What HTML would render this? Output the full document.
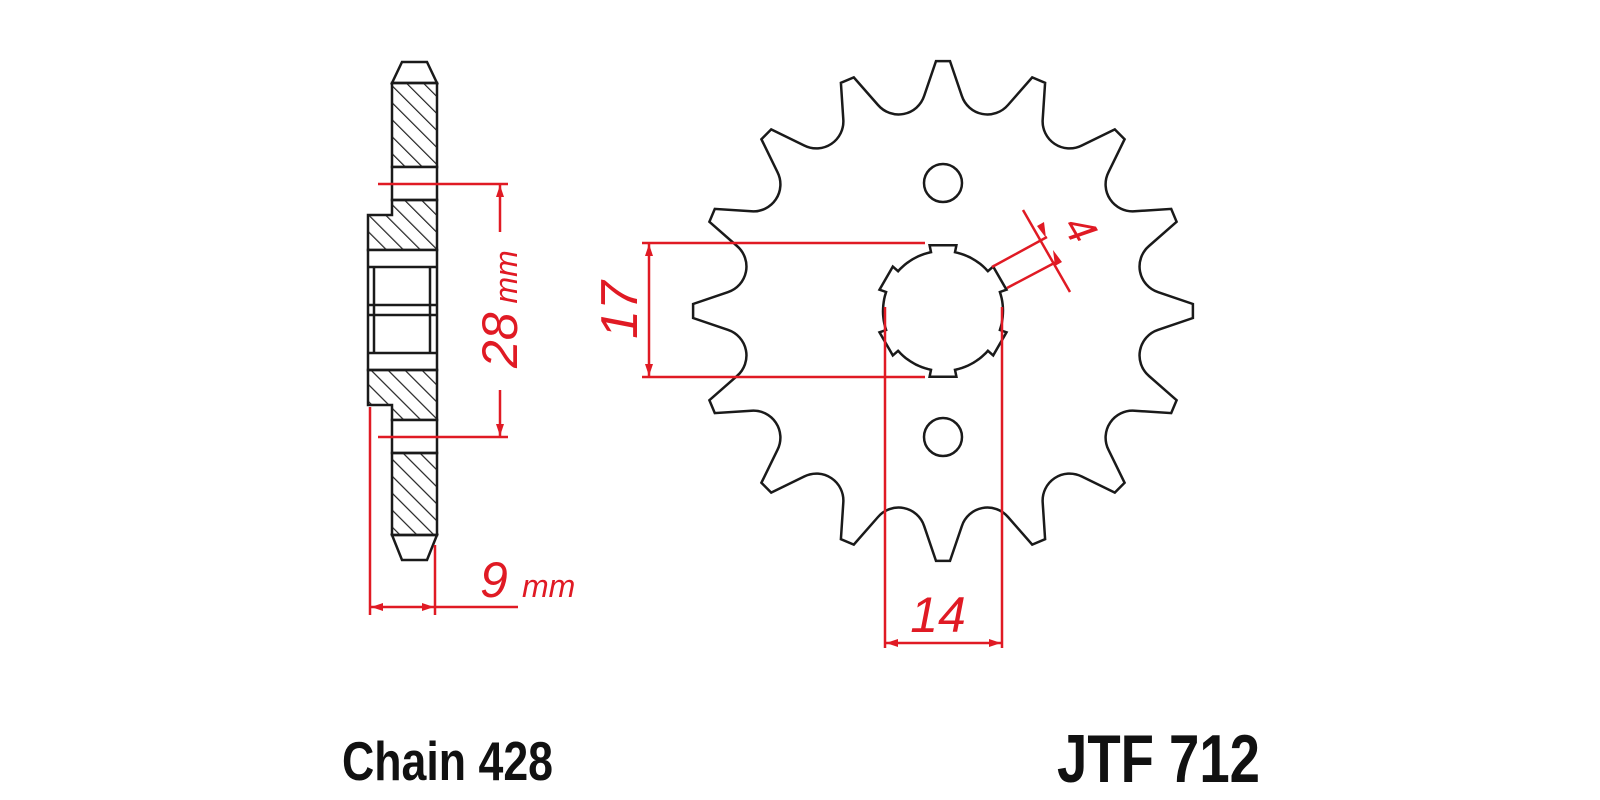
<!DOCTYPE html>
<html><head><meta charset="utf-8"><style>
html,body{margin:0;padding:0;background:#fff;}
svg{display:block;}
</style></head><body>
<svg id="s" width="1600" height="800" viewBox="0 0 1600 800" xmlns="http://www.w3.org/2000/svg">
<defs>
<pattern id="h" patternUnits="userSpaceOnUse" width="12" height="12" patternTransform="rotate(-45)">
<line x1="0" y1="0" x2="0" y2="12" stroke="#222" stroke-width="2.4"/>
</pattern>
</defs>
<rect width="1600" height="800" fill="#fff"/>

<!-- side view -->
<g stroke="#1a1a1a" stroke-width="2.5" fill="none">
<polygon points="402,62 427,62 437,83 392,83" fill="#fff"/>
<polygon points="392,535 437,535 427,560 402,560" fill="#fff"/>
<rect x="392" y="83" width="45" height="84" fill="url(#h)"/>
<rect x="392" y="167" width="45" height="33" fill="#fff"/>
<polygon points="392,200 437,200 437,250 368,250 368,215 392,215" fill="url(#h)"/>
<rect x="368" y="250" width="69" height="120" fill="#fff"/>
<line x1="368" y1="267" x2="437" y2="267"/>
<line x1="368" y1="305" x2="437" y2="305"/>
<line x1="368" y1="315" x2="437" y2="315"/>
<line x1="368" y1="353" x2="437" y2="353"/>
<line x1="374" y1="267" x2="374" y2="353"/>
<line x1="430" y1="267" x2="430" y2="353"/>
<polygon points="368,370 437,370 437,420 392,420 392,405 368,405" fill="url(#h)"/>
<rect x="392" y="420" width="45" height="33" fill="#fff"/>
<rect x="392" y="453" width="45" height="82" fill="url(#h)"/>
</g>

<!-- sprocket -->
<g stroke="#1a1a1a" stroke-width="2.5" fill="none">
<path id="gear"/>
<path id="hub"/>
<circle cx="943" cy="183" r="19"/>
<circle cx="943" cy="437" r="19"/>
</g>

<!-- red dims -->
<g stroke="#e01a24" stroke-width="2.5" fill="none">
<line x1="378" y1="184" x2="508" y2="184"/>
<line x1="378" y1="437" x2="508" y2="437"/>
<line x1="500" y1="184" x2="500" y2="232"/>
<line x1="500" y1="390" x2="500" y2="437"/>
<line x1="370" y1="407" x2="370" y2="615"/>
<line x1="435" y1="545" x2="435" y2="615"/>
<line x1="370" y1="607" x2="518" y2="607"/>
<line x1="642" y1="243" x2="925" y2="243"/>
<line x1="642" y1="377" x2="925" y2="377"/>
<line x1="649" y1="243" x2="649" y2="377"/>
<line x1="885" y1="307" x2="885" y2="648"/>
<line x1="1002" y1="307" x2="1002" y2="648"/>
<line x1="885" y1="643" x2="1002" y2="643"/>
<line x1="992" y1="267" x2="1047" y2="237"/>
<line x1="1007" y1="288" x2="1060" y2="260"/>
<line x1="1023" y1="210" x2="1070" y2="292"/>
</g>
<g fill="#e01a24">
<polygon points="500,185 496,197 504,197"/>
<polygon points="500,436 496,424 504,424"/>
<polygon points="371,607 383,603 383,611"/>
<polygon points="434,607 422,603 422,611"/>
<polygon points="649,244 645,256 653,256"/>
<polygon points="649,376 645,364 653,364"/>
<polygon points="886,643 898,639 898,647"/>
<polygon points="1001,643 989,639 989,647"/>
<polygon points="1046,238 1037,226 1044,222"/>
<polygon points="1053,250 1062,262 1055,266"/>
</g>
<g fill="#e01a24" font-family="Liberation Sans, sans-serif" font-style="italic">
<text x="0" y="0" font-size="50" transform="translate(517,368) rotate(-90)">28<tspan font-size="32"> mm</tspan></text>
<text x="480" y="597" font-size="50">9</text>
<text x="522" y="597" font-size="32">mm</text>
<text x="0" y="0" font-size="52" text-anchor="middle" transform="translate(637,310) rotate(-90)">17</text>
<text x="938" y="632" font-size="50" text-anchor="middle">14</text>
<text x="0" y="0" font-size="42" text-anchor="middle" transform="translate(1068,236) rotate(60)">4</text>
</g>
<g fill="#111" font-family="Liberation Sans, sans-serif" font-weight="bold">
<text x="342" y="780" font-size="55" textLength="211" lengthAdjust="spacingAndGlyphs">Chain 428</text>
<text x="1057" y="782" font-size="68" textLength="203" lengthAdjust="spacingAndGlyphs">JTF 712</text>
</g>
</svg>
<script>
(function(){
var cx=943,cy=311,N=16,d='';
function P(r,a){a=a*Math.PI/180;return [(cx+r*Math.sin(a)).toFixed(1),(cy-r*Math.cos(a)).toFixed(1)];}
for(var i=0;i<N;i++){
 var t=i*22.5;
 var a=P(250,t-1.6),b=P(250,t+1.6),c=P(216,t+5),e=P(216,t+17.5);
 d+=(i==0?'M':'L')+a[0]+' '+a[1]+' L'+b[0]+' '+b[1]+' L'+c[0]+' '+c[1]+' A27 27 0 0 0 '+e[0]+' '+e[1]+' ';
}
d+='Z';
document.getElementById('gear').setAttribute('d',d);
var pts=[];
for(var k=0;k<6;k++){
 var f=k*60;
 var s=f+11.5,en=f+60-11.5;
 pts.push(P(67,f-11.5));
 pts.push(P(67,f+11.5));
 for(var g=s;g<=en+0.01;g+=3){pts.push(P(60,g));}
 pts.push(P(60,en));
}
var hd='M'+pts.map(function(p){return p[0]+' '+p[1];}).join(' L')+' Z';
document.getElementById('hub').setAttribute('d',hd);
})();
</script>
</body></html>
